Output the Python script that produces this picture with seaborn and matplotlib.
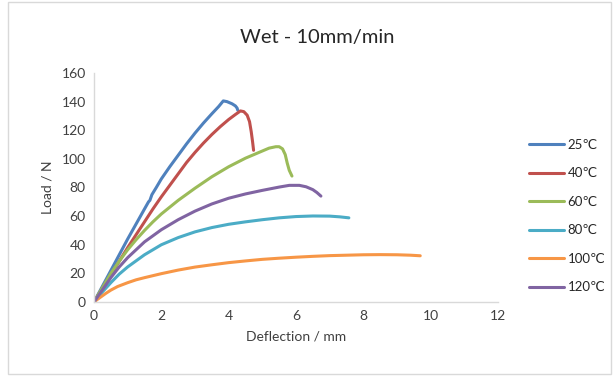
import matplotlib
matplotlib.use("Agg")
import matplotlib.pyplot as plt
import numpy as np
import pandas as pd
import seaborn as sns
from matplotlib.patches import Rectangle

# --- data (deflection mm, load N) ---
x_25 = [0, 0.25, 0.5, 0.75, 1.0, 1.25, 1.5, 1.62, 1.66, 1.72, 1.85, 2.0, 2.25, 2.5,
        2.75, 3.0, 3.25, 3.5, 3.7, 3.84, 3.95, 4.1, 4.2, 4.25, 4.27]
y_25 = [0, 11, 22, 33, 44, 54.5, 65, 70, 71, 75, 80, 86, 94.5, 102.5,
        110.5, 118, 125, 131.5, 136.5, 140.5, 140, 138.5, 137, 135.5, 134]

x_40 = [0, 0.25, 0.5, 0.75, 1.0, 1.25, 1.5, 1.75, 2.0, 2.25, 2.5, 2.75, 3.0, 3.25,
        3.5, 3.75, 4.0, 4.2, 4.35, 4.45, 4.55, 4.62, 4.67, 4.71, 4.74]
y_40 = [0, 9.5, 19, 28.5, 38, 47, 56, 65, 73.5, 81.5, 89.5, 97.5, 104.5, 111,
        117, 122.5, 127.5, 131, 133.5, 133, 130.5, 126, 119, 112, 106]

x_60 = [0, 0.25, 0.5, 0.75, 1.0, 1.25, 1.5, 1.75, 2.0, 2.5, 3.0, 3.5, 4.0, 4.5,
        5.0, 5.2, 5.4, 5.5, 5.6, 5.68, 5.74, 5.8, 5.88]
y_60 = [0, 10, 20, 28.5, 36.5, 43.5, 50, 56, 61.5, 71, 79.5, 87.5, 94.5, 100.5,
        105.5, 107.5, 108.5, 108.5, 107, 103, 97, 92, 88]

x_80 = [0, 0.25, 0.5, 0.75, 1.0, 1.5, 2.0, 2.5, 3.0, 3.5, 4.0, 4.5, 5.0, 5.5,
        6.0, 6.5, 7.0, 7.3, 7.57]
y_80 = [0, 7, 13.5, 19.5, 24.5, 33, 40, 45, 49, 52, 54.3, 56, 57.5, 58.8,
        59.7, 60.1, 60, 59.5, 58.8]

x_100 = [0, 0.1, 0.2, 0.35, 0.5, 0.7, 1.0, 1.25, 1.5, 2.0, 2.5, 3.0, 3.5, 4.0,
         4.5, 5.0, 5.5, 6.0, 6.5, 7.0, 7.5, 8.0, 8.5, 9.0, 9.4, 9.69]
y_100 = [0, 1.8, 3.5, 6, 8.3, 10.8, 13.5, 15.5, 17, 19.8, 22.3, 24.4, 26, 27.5,
         28.7, 29.8, 30.6, 31.3, 31.9, 32.4, 32.7, 33, 33.1, 33, 32.7, 32.3]

x_120 = [0, 0.25, 0.5, 0.75, 1.0, 1.5, 2.0, 2.5, 3.0, 3.5, 4.0, 4.5, 5.0, 5.5,
         5.8, 6.1, 6.3, 6.5, 6.62, 6.74]
y_120 = [0, 8.5, 17, 24.5, 31, 42, 50.5, 57.5, 63.5, 68.5, 72.5, 75.5, 78, 80.3,
         81.5, 81.5, 80.5, 78.5, 76.5, 74]

labels = ["25℃", "40℃", "60℃", "80℃", "100℃", "120℃"]
colors = ["#4F81BD", "#C0504D", "#9BBB59", "#4BACC6", "#F79646", "#8064A2"]

curves = [(x_25, y_25), (x_40, y_40), (x_60, y_60),
          (x_80, y_80), (x_100, y_100), (x_120, y_120)]
df = pd.concat(
    [pd.DataFrame({"defl": xs, "load": ys, "temp": lab})
     for (xs, ys), lab in zip(curves, labels)],
    ignore_index=True)

sns.set_theme(style="white")
plt.rcParams["font.family"] = ["Lato", "DejaVu Sans"]

fig = plt.figure(figsize=(6.13, 3.76), dpi=100)
ax = fig.add_axes([94 / 613, 1 - 302 / 376, 404 / 613, 229 / 376])

sns.lineplot(data=df, x="defl", y="load", hue="temp", hue_order=labels,
             palette=colors, sort=False, estimator=None, lw=2.2, ax=ax)

ax.set_xlim(0, 12)
ax.set_ylim(0, 160)
ax.set_xticks(np.arange(0, 13, 2))
ax.set_yticks(np.arange(0, 161, 20))
ax.tick_params(axis="both", length=0, labelsize=10, colors="#404040", pad=6)
for side in ["top", "right"]:
    ax.spines[side].set_visible(False)
for side in ["left", "bottom"]:
    ax.spines[side].set_color("#d9d9d9")
    ax.spines[side].set_linewidth(1)

ax.set_xlabel("Deflection / mm", fontsize=10, color="#404040", labelpad=6)
ax.set_ylabel("Load / N", fontsize=10, color="#404040", labelpad=6)
fig.text(0.518, 1 - 37 / 376, "Wet - 10mm/min", ha="center", va="center",
         fontsize=14.5, color="#262626")

handles, labs = ax.get_legend_handles_labels()
ax.legend(handles, labs, loc="center left", bbox_to_anchor=(524 / 613, 1 - 216 / 376),
          bbox_transform=fig.transFigure, frameon=False, fontsize=9.5,
          handlelength=2.6, labelspacing=1.25, handletextpad=0.3,
          borderaxespad=0, title=None)

# light outer chart border
fig.patches.append(Rectangle((8 / 613, 2 / 376), 1 - 10 / 613, 1 - 4 / 376,
                             transform=fig.transFigure, fill=False,
                             edgecolor="#d9d9d9", lw=1))

fig.savefig("out.png", dpi=100)
